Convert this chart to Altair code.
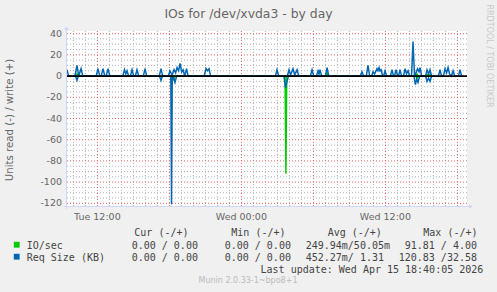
import altair as alt
import pandas as pd

# ---------------- text / categories ----------------
TITLE = "IOs for /dev/xvda3 - by day"
Y_TITLE = "Units read (-) / write (+)"
X_TICKS = [12, 24, 36]                       # hours since Tue 00:00
X_TICK_LABELS = ["Tue 12:00", "Wed 00:00", "Wed 12:00"]
Y_TICKS = [-120, -100, -80, -60, -40, -20, 0, 20, 40]
Y_TICK_LABELS = ["-120", "-100", "-80", "-60", "-40", "-20", "0", "20", "40"]
SERIES = ["IO/sec", "Req Size (KB)"]
COLORS = ["#00CC00", "#0066B3"]
HEADERS = ["Cur (-/+)", "Min (-/+)", "Avg (-/+)", "Max (-/+)"]
CUR = ["0.00 / 0.00", "0.00 / 0.00"]
MIN = ["0.00 / 0.00", "0.00 / 0.00"]
AVG = ["249.94m/50.05m", "452.27m/ 1.31"]
MAX = ["91.81 / 4.00", "120.83 /32.58"]
LAST_UPDATE = "Last update: Wed Apr 15 18:40:05 2026"
VERSION = "Munin 2.0.33-1~bpo8+1"
WATERMARK = "RRDTOOL / TOBI OETIKER"

X_DOMAIN = [9.47, 42.8]
Y_DOMAIN = [-122.5, 42.5]

# ---------------- series (hours since Tue 00:00, value) ----------------
REQ_W_H = [9.47, 9.60,
           10.13, 10.30, 10.45, 10.64, 10.78,
           11.90, 12.05, 12.20,
           12.32, 12.47, 12.62,
           12.74, 12.89, 13.04,
           14.12, 14.26, 14.37, 14.47, 14.60,
           14.75, 14.89, 15.03,
           15.16, 15.30, 15.44,
           15.83, 15.97, 16.11,
           17.16, 17.30, 17.44,
           17.92, 18.05, 18.22, 18.39, 18.52, 18.64, 18.77, 18.89, 19.02, 19.14, 19.28, 19.43, 19.56,
           20.90, 21.05, 21.17, 21.30, 21.44,
           26.83, 26.97, 27.11,
           27.83, 27.97, 28.10, 28.30, 28.45, 28.64, 28.78,
           29.75, 29.89, 30.03,
           30.25, 30.39, 30.47, 30.55, 30.69,
           31.00, 31.14, 31.28,
           33.91, 34.05, 34.19,
           34.41, 34.55, 34.69,
           34.85, 34.97, 35.10, 35.30, 35.38, 35.47, 35.55, 35.64, 35.78,
           35.85, 35.97, 36.10,
           36.42, 36.55, 36.68,
           36.76, 36.89, 37.02,
           37.09, 37.22, 37.35,
           37.51, 37.64, 37.76, 37.89, 38.02,
           38.18, 38.30, 38.43, 38.55, 38.68, 38.80, 38.89, 39.02,
           39.34, 39.47, 39.60, 39.72, 39.85,
           40.42, 40.55, 40.68,
           40.84, 40.97, 41.10, 41.22, 41.35,
           41.50, 41.64, 41.77,
           42.09, 42.22, 42.35]
REQ_W_V = [6, 0,
           0, 10, 0, 7, 0,
           0, 7, 0,
           0, 7, 0,
           0, 7, 0,
           0, 6, 2, 5, 0,
           0, 6, 0,
           0, 6, 0,
           0, 7, 0,
           0, 7, 0,
           0, 5, 1, 6, 3, 8, 5, 12, 4, 6, 0, 7, 0,
           0, 7, 5, 7, 0,
           0, 6, 0,
           0, 6, 1, 7, 1, 6, 0,
           0, 6, 0,
           0, 5, 2, 6, 0,
           0, 8, 0,
           0, 4, 0,
           0, 10, 0,
           0, 4, 2, 7, 5, 8, 5, 6, 0,
           0, 5, 0,
           0, 6, 0,
           0, 6, 0,
           0, 6, 0,
           0, 7, 2, 5, 0,
           0, 32.6, 0, 3, 7, 4, 8, 0,
           0, 6, 2, 6, 0,
           0, 6, 0,
           0, 7, 3, 8, 2,
           0, 5, 0,
           0, 6, 0]

REQ_R_H = [10.18, 10.30, 10.42,
           17.18, 17.30, 17.42,
           18.12, 18.18, 18.24, 18.36, 18.47, 18.60,
           27.55, 27.68, 27.80, 27.93,
           38.38, 38.50, 38.60, 38.72, 38.85,
           39.35, 39.47, 39.60, 39.72, 39.85]
REQ_R_V = [0, -4, 0,
           0, -4, 0,
           0, -120.8, 0, -2, -6, 0,
           0, -11, -5, 0,
           0, -8, -3, -6, 0,
           0, -5, -2, -5, 0]

IO_W_H = [10.22, 10.30, 10.40,
          31.05, 31.14, 31.25,
          38.55, 38.63, 38.72,
          39.40, 39.50, 39.70, 39.80]
IO_W_V = [0, 2, 0,
          0, 3, 0,
          0, 2, 0,
          0, 1.5, 1.5, 0]

IO_R_H = [18.25, 18.35, 18.45,
          27.64, 27.71, 27.78,
          38.55, 38.63, 38.72]
IO_R_V = [0, -3, 0,
          0, -91.8, 0,
          0, -3, 0]

FONT = "DejaVu Sans"
MONO = "DejaVu Sans Mono"
TXT = "#666666"
LEG_TXT = "#444444"

xs = alt.Scale(domain=X_DOMAIN, nice=False, zero=False)
ys = alt.Scale(domain=Y_DOMAIN, nice=False, zero=False)

layers = []

# grids
y_minor = [v for v in range(-120, 45, 5) if v % 20 != 0]
y_major = [v for v in range(-120, 45, 20)]
x_minor = [h for h in range(10, 43) if h % 6 != 0]
x_major = [h for h in range(12, 43, 6)]

MINOR_C = "#B4B4B4"
MAJOR_C = "#E06666"

layers.append(alt.Chart(pd.DataFrame({"v": y_minor})).mark_rule(
    color=MINOR_C, strokeDash=[1, 2], strokeWidth=1).encode(
    y=alt.Y("v:Q", scale=ys, axis=None)))
layers.append(alt.Chart(pd.DataFrame({"h": x_minor})).mark_rule(
    color=MINOR_C, strokeDash=[1, 2], strokeWidth=1).encode(
    x=alt.X("h:Q", scale=xs, axis=None)))
layers.append(alt.Chart(pd.DataFrame({"v": y_major})).mark_rule(
    color=MAJOR_C, strokeDash=[1, 2], strokeWidth=1).encode(
    y=alt.Y("v:Q", scale=ys, axis=None)))
layers.append(alt.Chart(pd.DataFrame({"h": x_major})).mark_rule(
    color=MAJOR_C, strokeDash=[1, 2], strokeWidth=1).encode(
    x=alt.X("h:Q", scale=xs, axis=None)))

# tick labels drawn through the scales
layers.append(alt.Chart(pd.DataFrame({"v": Y_TICKS, "l": Y_TICK_LABELS})).mark_text(
    font=FONT, fontSize=9.5, color=TXT, align="right", baseline="middle").encode(
    y=alt.Y("v:Q", scale=ys, axis=None), x=alt.value(-5), text="l:N"))
layers.append(alt.Chart(pd.DataFrame({"h": X_TICKS, "l": X_TICK_LABELS})).mark_text(
    font=FONT, fontSize=9.5, color=TXT, align="center", baseline="middle").encode(
    x=alt.X("h:Q", scale=xs, axis=None), y=alt.value(185.5), text="l:N"))

# series
def series_layer(hs, vs, color):
    df = pd.DataFrame({"h": hs, "v": vs})
    return alt.Chart(df).mark_line(color=color, strokeWidth=1.5, clip=True).encode(
        x=alt.X("h:Q", scale=xs, axis=None),
        y=alt.Y("v:Q", scale=ys, axis=None))

layers.append(series_layer(IO_W_H, IO_W_V, COLORS[0]))
layers.append(series_layer(IO_R_H, IO_R_V, COLORS[0]))
layers.append(series_layer(REQ_W_H, REQ_W_V, COLORS[1]))
layers.append(series_layer(REQ_R_H, REQ_R_V, COLORS[1]))

# zero line
layers.append(alt.Chart(pd.DataFrame({"v": [0]})).mark_rule(
    color="black", strokeWidth=1.6).encode(
    y=alt.Y("v:Q", scale=ys, axis=None)))

# axis frame lines and arrows
AX = "#CFD6F8"
dummy = pd.DataFrame({"a": [0]})
layers.append(alt.Chart(dummy).mark_rule(color=AX, strokeWidth=1).encode(
    x=alt.value(-0.5), y=alt.value(-2), y2=alt.value(178)))
layers.append(alt.Chart(dummy).mark_rule(color=AX, strokeWidth=1).encode(
    x=alt.value(-3), x2=alt.value(404), y=alt.value(175.5)))
layers.append(alt.Chart(dummy).mark_point(shape="triangle-up", filled=True, size=22,
                                          color=AX, opacity=1).encode(
    x=alt.value(-0.5), y=alt.value(-3)))
layers.append(alt.Chart(dummy).mark_point(shape="triangle-right", filled=True, size=22,
                                          color=AX, opacity=1).encode(
    x=alt.value(404), y=alt.value(175.5)))

def text_layer(t, x, y, size, font=FONT, color=TXT, align="left", angle=0):
    return alt.Chart(pd.DataFrame({"t": [t]})).mark_text(
        font=font, fontSize=size, color=color, align=align, baseline="middle",
        angle=angle).encode(text="t:N", x=alt.value(x), y=alt.value(y))

# title, axis title, watermark
layers.append(text_layer(TITLE, 181.5, -17, 12.4, align="center"))
layers.append(text_layer(Y_TITLE, -57, 89, 10.2, align="center", angle=270))
layers.append(text_layer(WATERMARK, 421.5, 25, 8, color="#C8C8C8", align="center", angle=90))

# legend
LEG_ROWS_Y = [214.7, 226.7]
HEADER_Y = 202
layers.append(text_layer(HEADERS[0], 67.3, HEADER_Y, 10, font=MONO, color=LEG_TXT))
layers.append(text_layer(HEADERS[1], 164.3, HEADER_Y, 10, font=MONO, color=LEG_TXT))
layers.append(text_layer(HEADERS[2], 260.7, HEADER_Y, 10, font=MONO, color=LEG_TXT))
layers.append(text_layer(HEADERS[3], 410.5, HEADER_Y, 10, font=MONO, color=LEG_TXT, align="right"))
for i, name in enumerate(SERIES):
    yy = LEG_ROWS_Y[i]
    layers.append(alt.Chart(dummy).mark_square(size=34, filled=True, opacity=1,
                                               color=COLORS[i]).encode(
        x=alt.value(-50.3), y=alt.value(yy - 1)))
    layers.append(text_layer(name, -40.3, yy, 10, font=MONO, color=LEG_TXT))
    layers.append(text_layer(CUR[i], 64.7, yy, 10, font=MONO, color=LEG_TXT))
    layers.append(text_layer(MIN[i], 157.7, yy, 10, font=MONO, color=LEG_TXT))
    layers.append(text_layer(AVG[i], 238.7, yy, 10, font=MONO, color=LEG_TXT))
    layers.append(text_layer(MAX[i], 410, yy, 10, font=MONO, color=LEG_TXT, align="right"))
layers.append(text_layer(LAST_UPDATE, 416.3, 238.7, 10, font=MONO, color=LEG_TXT, align="right"))
layers.append(text_layer(VERSION, 181, 250, 8, color="#BBBBBB", align="center"))

chart = alt.layer(*layers).properties(
    width=400, height=175,
    autosize=alt.AutoSizeParams(type="none"),
    padding={"left": 67, "top": 31, "right": 30, "bottom": 86},
    background="#F0F0F0",
).configure_view(fill="white", strokeWidth=0)

chart.save("out.html", embed_options={"renderer": "svg", "actions": False})
